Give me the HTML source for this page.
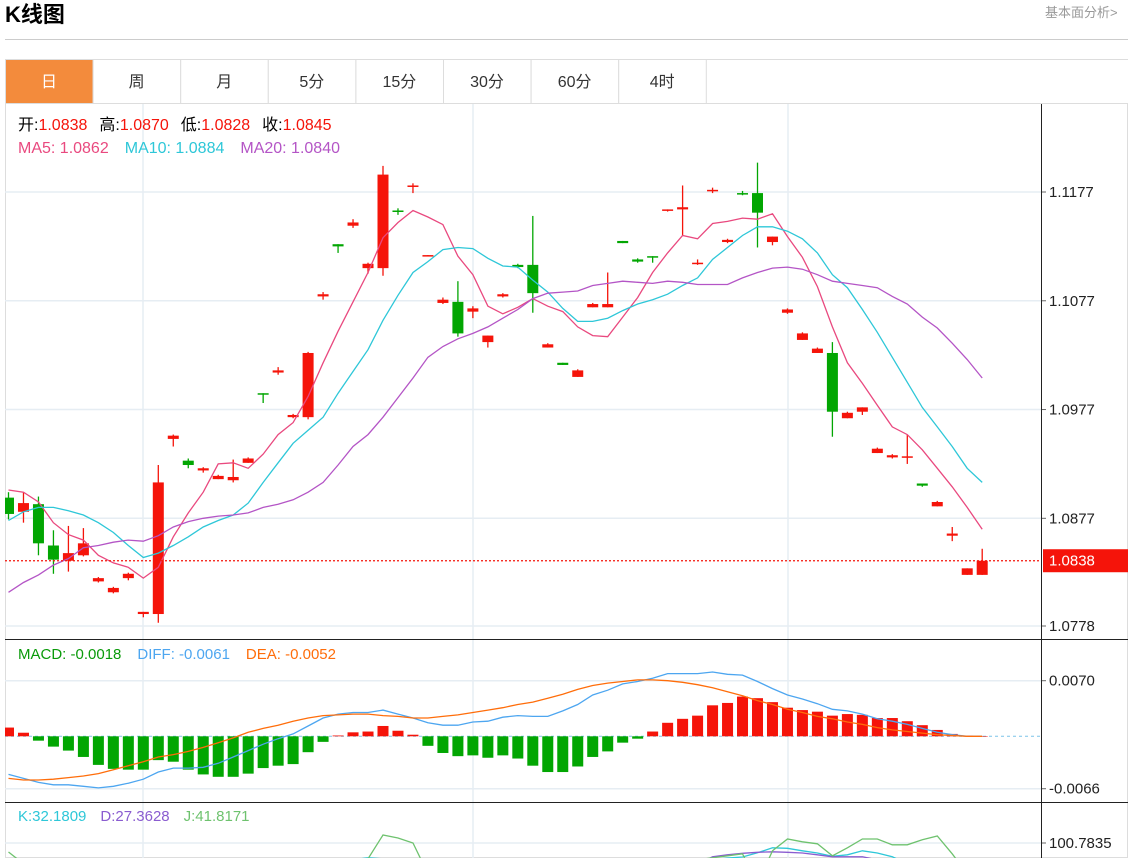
<!DOCTYPE html>
<html><head><meta charset="utf-8"><style>
body{margin:0;background:#fff;width:1146px;height:858px;overflow:hidden;font-family:"Liberation Sans","Noto Sans CJK SC",sans-serif}
svg text{font-family:"Liberation Sans","Noto Sans CJK SC",sans-serif}
</style></head><body>
<svg id="c" width="1146" height="858" viewBox="0 0 1146 858" xmlns="http://www.w3.org/2000/svg">
<defs>
<clipPath id="cm"><rect x="5" y="104" width="1036" height="535"/></clipPath>
<clipPath id="cd"><rect x="5" y="640" width="1036" height="162"/></clipPath>
<clipPath id="ck"><rect x="5" y="803" width="1036" height="55"/></clipPath>
</defs>
<text x="5" y="22" font-size="22" font-weight="bold" fill="#000">K线图</text>
<text x="1045" y="17" font-size="13" fill="#999">基本面分析&gt;</text>
<line x1="5" y1="39.5" x2="1128" y2="39.5" stroke="#ccc"/>
<g id="tabs"></g>
<rect x="5.5" y="103.5" width="1122" height="754" fill="none" stroke="#ddd"/>
<g id="grid"></g>
<g id="main" clip-path="url(#cm)"></g>
<g id="macd" clip-path="url(#cd)"></g>
<g id="kdj" clip-path="url(#ck)"></g>
<g id="axes"></g>
<g font-size="16">
<text x="18" y="130"><tspan fill="#000">开:</tspan><tspan fill="#f5140a">1.0838</tspan><tspan fill="#000" dx="12">高:</tspan><tspan fill="#f5140a">1.0870</tspan><tspan fill="#000" dx="12">低:</tspan><tspan fill="#f5140a">1.0828</tspan><tspan fill="#000" dx="12">收:</tspan><tspan fill="#f5140a">1.0845</tspan></text>
<text x="18" y="153"><tspan fill="#e9497f">MA5: 1.0862</tspan><tspan dx="16" fill="#2ec7d8">MA10: 1.0884</tspan><tspan dx="16" fill="#b455c6">MA20: 1.0840</tspan></text>
</g>
<text x="18" y="659" font-size="15"><tspan fill="#0a9a0a">MACD: -0.0018</tspan><tspan dx="16" fill="#4da6f0">DIFF: -0.0061</tspan><tspan dx="16" fill="#ff6d0a">DEA: -0.0052</tspan></text>
<text x="18" y="821" font-size="15"><tspan fill="#2ec7d8">K:32.1809</tspan><tspan dx="14" fill="#8a5cd0">D:27.3628</tspan><tspan dx="14" fill="#6ec26e">J:41.8171</tspan></text>
</svg>
<script>
const opens=[1.0896,1.0883,1.0890,1.0852,1.0838,1.0843,1.0819,1.0809,1.0822,1.0789,1.0789,1.0950,1.0930,1.0921,1.0913,1.0912,1.0928,1.0992,1.1011,1.0970,1.0970,1.1081,1.1129,1.1146,1.1107,1.1107,1.1160,1.1182,1.1118,1.1075,1.1076,1.1067,1.1039,1.1081,1.1110,1.1110,1.1034,1.1020,1.1007,1.1071,1.1071,1.1132,1.1115,1.1118,1.1160,1.1161,1.1111,1.1178,1.1131,1.1176,1.1176,1.1131,1.1066,1.1041,1.1029,1.1029,1.0969,1.0975,1.0937,1.0933,1.0933,1.0909,1.0888,1.0861,1.0825,1.0825];
const highs=[1.0901,1.0901,1.0897,1.0866,1.0870,1.0868,1.0823,1.0814,1.0827,1.0791,1.0926,1.0954,1.0932,1.0924,1.0917,1.0931,1.0933,1.0992,1.1016,1.0973,1.1030,1.1085,1.1129,1.1152,1.1112,1.1201,1.1162,1.1185,1.1119,1.1080,1.1095,1.1072,1.1045,1.1084,1.1111,1.1155,1.1038,1.1020,1.1014,1.1075,1.1103,1.1132,1.1116,1.1118,1.1161,1.1183,1.1115,1.1181,1.1134,1.1178,1.1204,1.1136,1.1070,1.1048,1.1034,1.1039,1.0975,1.0979,1.0942,1.0936,1.0954,1.0909,1.0893,1.0869,1.0831,1.0849];
const lows=[1.0876,1.0873,1.0843,1.0826,1.0828,1.0842,1.0818,1.0808,1.0820,1.0786,1.0781,1.0943,1.0923,1.0919,1.0913,1.0910,1.0928,1.0983,1.1009,1.0969,1.0968,1.1078,1.1121,1.1144,1.1102,1.1100,1.1156,1.1176,1.1118,1.1074,1.1044,1.1061,1.1034,1.1080,1.1107,1.1066,1.1034,1.1018,1.1007,1.1071,1.1071,1.1130,1.1112,1.1112,1.1159,1.1137,1.1110,1.1176,1.1130,1.1174,1.1126,1.1128,1.1065,1.1041,1.1029,1.0952,1.0969,1.0972,1.0937,1.0932,1.0927,1.0906,1.0888,1.0856,1.0825,1.0825];
const closes=[1.0881,1.0891,1.0854,1.0839,1.0845,1.0854,1.0822,1.0813,1.0826,1.0791,1.0910,1.0953,1.0926,1.0923,1.0916,1.0915,1.0932,1.0991,1.1013,1.0972,1.1029,1.1083,1.1127,1.1149,1.1111,1.1193,1.1159,1.1183,1.1119,1.1078,1.1047,1.1070,1.1045,1.1083,1.1108,1.1084,1.1037,1.1018,1.1013,1.1074,1.1074,1.1130,1.1113,1.1117,1.1161,1.1163,1.1112,1.1179,1.1133,1.1175,1.1158,1.1136,1.1069,1.1047,1.1033,1.0975,1.0974,1.0979,1.0941,1.0935,1.0934,1.0907,1.0892,1.0863,1.0831,1.0838];
const ma5=[1.0903,1.0901,1.0892,1.0873,1.0862,1.0857,1.0843,1.0836,1.0832,1.0822,1.0832,1.0860,1.0882,1.0901,1.0927,1.0928,1.0923,1.0936,1.0954,1.0965,1.0989,1.1020,1.1049,1.1076,1.1103,1.1135,1.1149,1.1160,1.1154,1.1147,1.1118,1.1101,1.1072,1.1065,1.1071,1.1079,1.1072,1.1067,1.1053,1.1045,1.1044,1.1062,1.1080,1.1103,1.1121,1.1137,1.1134,1.1148,1.1150,1.1153,1.1152,1.1157,1.1136,1.1117,1.1090,1.1053,1.1020,1.1001,1.0981,1.0961,1.0954,1.0940,1.0923,1.0906,1.0887,1.0867];
const ma10=[1.0875,1.0883,1.0887,1.0887,1.0884,1.0880,1.0873,1.0864,1.0852,1.0841,1.0845,1.0852,1.0860,1.0869,1.0875,1.0880,1.0891,1.0910,1.0928,1.0946,1.0958,1.0970,1.0992,1.1012,1.1032,1.1059,1.1082,1.1103,1.1113,1.1124,1.1126,1.1125,1.1116,1.1109,1.1108,1.1096,1.1085,1.1070,1.1058,1.1058,1.1061,1.1068,1.1074,1.1078,1.1083,1.1091,1.1098,1.1115,1.1126,1.1137,1.1145,1.1145,1.1141,1.1134,1.1121,1.1101,1.1089,1.1069,1.1048,1.1025,1.1002,1.0979,1.0961,1.0943,1.0923,1.0910];
const ma20=[1.0809,1.0818,1.0825,1.0834,1.0840,1.0850,1.0852,1.0855,1.0857,1.0856,1.0861,1.0869,1.0874,1.0877,1.0879,1.0880,1.0882,1.0887,1.0890,1.0894,1.0901,1.0910,1.0926,1.0943,1.0954,1.0970,1.0988,1.1006,1.1025,1.1035,1.1042,1.1047,1.1053,1.1061,1.1069,1.1079,1.1084,1.1085,1.1086,1.1091,1.1093,1.1095,1.1094,1.1093,1.1095,1.1094,1.1092,1.1092,1.1092,1.1098,1.1103,1.1107,1.1108,1.1106,1.1101,1.1095,1.1093,1.1091,1.1089,1.1081,1.1074,1.1062,1.1052,1.1038,1.1023,1.1006];
const macdHist=[0.0011,0.00045,-0.00055,-0.0013,-0.0018,-0.0026,-0.0036,-0.0041,-0.0042,-0.0042,-0.0030,-0.0032,-0.0042,-0.0048,-0.0051,-0.0051,-0.0047,-0.0040,-0.0037,-0.0035,-0.0020,-0.0007,0.0001,0.0005,0.0006,0.0013,0.0007,0.0002,-0.0012,-0.0021,-0.0025,-0.0024,-0.0027,-0.0024,-0.0028,-0.0037,-0.0045,-0.0045,-0.0038,-0.0026,-0.0019,-0.0008,-0.0003,0.0006,0.0017,0.0022,0.0026,0.0039,0.0042,0.0050,0.0048,0.0043,0.0036,0.0033,0.0031,0.0026,0.0028,0.0027,0.0023,0.0023,0.0019,0.0014,0.0008,0.0003,0.0001,0];
const diff=[-0.0048,-0.0053,-0.0058,-0.0061,-0.0061,-0.0063,-0.0065,-0.0063,-0.0059,-0.0054,-0.0045,-0.0040,-0.0040,-0.0039,-0.0034,-0.0026,-0.0018,-0.0010,-0.0003,0.0003,0.0013,0.0023,0.0028,0.0030,0.0030,0.0033,0.0028,0.0023,0.0017,0.0014,0.0014,0.0018,0.0019,0.0024,0.0026,0.0025,0.0025,0.0032,0.0040,0.0052,0.0058,0.0066,0.0069,0.0073,0.0079,0.0079,0.0079,0.0081,0.0078,0.0077,0.0069,0.0060,0.0052,0.0047,0.0041,0.0034,0.0032,0.0028,0.0022,0.0019,0.0015,0.0010,0.0005,0.0002,0,0];
const dea=[-0.0053,-0.0055,-0.0055,-0.0054,-0.0052,-0.0050,-0.0047,-0.0042,-0.0037,-0.0032,-0.0026,-0.0023,-0.0019,-0.0014,-0.0008,-0.0002,0.0005,0.0010,0.0014,0.0019,0.0023,0.0026,0.0027,0.0028,0.0028,0.0026,0.0025,0.0023,0.0023,0.0025,0.0027,0.0030,0.0033,0.0036,0.0040,0.0043,0.0048,0.0053,0.0059,0.0064,0.0067,0.0069,0.0071,0.0071,0.0070,0.0068,0.0065,0.0061,0.0056,0.0051,0.0045,0.0040,0.0034,0.0030,0.0025,0.0022,0.0018,0.0015,0.0011,0.0008,0.0006,0.0004,0.0002,0.0001,0,0];
const kVals=[85,80,75,70,65,60,55,50,50,50,55,60,65,70,70,70,70,72,74,76,78,80,82,84,86,85,82,78,74,70,66,62,60,58,56,55,55,56,58,60,62,65,68,72,76,80,83,84,85.8,86.8,91,96,95.5,93,90.8,87.5,89,93,90.8,87,80,70,60,50,40,32.18];
const dVals=[80,78,75,72,68,64,60,57,55,54,54,56,58,61,63,65,67,69,71,73,75,77,79,81,83,84,84,82,80,77,74,71,68,65,63,61,59,58,58,59,60,62,64,67,71,75,80,87,89,90.5,91.5,92,91.5,90.8,89,87,87,87,84,80,74,66,56,45,35,27.36];
const jVals=[91.8,80,70,60,55,50,45,40,40,40,55,60,65,70,70,70,70,72,74,76,78,80,82,70,85,108.8,105.8,100.8,70,60,50,45,40,40,40,40,45,50,55,60,65,70,75,78,80,82,84,86,88,90,60,93,104.8,102,100,88,96,104.8,104.8,99,99,104,107.8,90,70,41.82];
const priceTicks=["1.1177","1.1077","1.0977","1.0877","1.0778"];
const macdTicks=["0.0070","-0.0066"];
const kdjTicks=["100.7835"];
const tabLabels=["日","周","月","5分","15分","30分","60分","4时"];
const lastPrice=1.0838;

const NS="http://www.w3.org/2000/svg";
function mk(tag,attrs,parent){const e=document.createElementNS(NS,tag);for(const k in attrs)e.setAttribute(k,attrs[k]);parent.appendChild(e);return e;}
const xOf=i=>8.5+i*14.98;
const yP=p=>192+(1.1177-p)*10877;
const yM=v=>736.3-v*7943;
const yK=v=>843+(100.7835-v)*1.0;
const RED="#f5140a",GREEN="#02a602";

const tabs=document.getElementById('tabs');
tabLabels.forEach((t,i)=>{
  const x=5+i*87.6;
  const r=mk('rect',{x:x+0.5,y:59.5,width:87.6,height:44,fill:i===0?'#f38b3c':'#fff',stroke:'#ddd'},tabs);
  
  
  const tx=mk('text',{x:x+44,y:87,'text-anchor':'middle','font-size':16,fill:i===0?'#fff':'#333'},tabs);
  tx.textContent=t;
  
  
});
mk('line',{x1:5,y1:59.5,x2:1128,y2:59.5,stroke:'#ddd'},tabs);

const g=document.getElementById('grid');
[143,473,788].forEach(x=>{const l=mk('line',{x1:x,y1:104,x2:x,y2:858,stroke:'#e6edf3','stroke-width':1.5},g);});
const ax=document.getElementById('axes');
function tick(t,y,name){
  mk('line',{x1:5,y1:y,x2:1041,y2:y,stroke:'#e6edf3','stroke-width':1.5},g);
  mk('line',{x1:1041,y1:y,x2:1046,y2:y,stroke:'#666'},ax);
  const tx=mk('text',{x:1049,y:y+5,'font-size':15,fill:'#222'},ax);tx.textContent=t;
  
}
priceTicks.forEach(t=>tick(t,yP(parseFloat(t)),'price-tick-label'));
macdTicks.forEach(t=>tick(t,yM(parseFloat(t)),'macd-tick-label'));
kdjTicks.forEach(t=>tick(t,yK(parseFloat(t)),'kdj-tick-label'));
mk('line',{x1:1041.5,y1:104,x2:1041.5,y2:858,stroke:'#222'},ax);
mk('line',{x1:5,y1:639.5,x2:1128,y2:639.5,stroke:'#222'},ax);
mk('line',{x1:5,y1:802.5,x2:1128,y2:802.5,stroke:'#222'},ax);

const m=document.getElementById('main');
opens.forEach((o,i)=>{
  const c=closes[i],up=c>=o,col=up?RED:GREEN,x=xOf(i);
  const w=mk('line',{x1:x,y1:yP(highs[i]),x2:x,y2:yP(lows[i]),stroke:col,'stroke-width':1.3},m);
  
  const top=yP(Math.max(o,c)),bot=yP(Math.min(o,c));
  const b=mk('rect',{x:x-5.5,y:top,width:11,height:Math.max(1.5,bot-top),fill:col},m);
  
});
function line(arr,yf,col,parent,name,w){
  const pts=arr.map((v,i)=>xOf(i).toFixed(1)+','+yf(v).toFixed(1)).join(' ');
  const p=mk('polyline',{points:pts,fill:'none',stroke:col,'stroke-width':w||1.3},parent);
  
}
line(ma5,yP,'#e9497f',m,'ma5-line');
line(ma10,yP,'#2ec7d8',m,'ma10-line');
line(ma20,yP,'#b455c6',m,'ma20-line');
const ly=yP(lastPrice);
const dl=mk('line',{x1:5,y1:ly,x2:1041,y2:ly,stroke:RED,'stroke-dasharray':'2,2','stroke-width':1.3},m);

const lb=mk('rect',{x:1043,y:ly-11.5,width:85,height:23,fill:RED},ax);

const lt=mk('text',{x:1049,y:ly+5,'font-size':15,fill:'#fff'},ax);lt.textContent=lastPrice.toFixed(4);


const md=document.getElementById('macd');
const zl=mk('line',{x1:5,y1:yM(0),x2:1041,y2:yM(0),stroke:'#7cc4e8','stroke-dasharray':'3,3'},md);

macdHist.forEach((v,i)=>{
  const y0=yM(0),y1=yM(v);
  const r=mk('rect',{x:xOf(i)-5.5,y:Math.min(y0,y1),width:11,height:Math.max(0.5,Math.abs(y1-y0)),fill:v>=0?RED:GREEN},md);
  
});
line(diff,yM,'#4da6f0',md,'diff-line');
line(dea,yM,'#ff6d0a',md,'dea-line');

const kd=document.getElementById('kdj');
line(kVals,yK,'#2ec7d8',kd,'k-line');
line(dVals,yK,'#8a5cd0',kd,'d-line');
line(jVals,yK,'#6ec26e',kd,'j-line');
</script>
</body></html>
